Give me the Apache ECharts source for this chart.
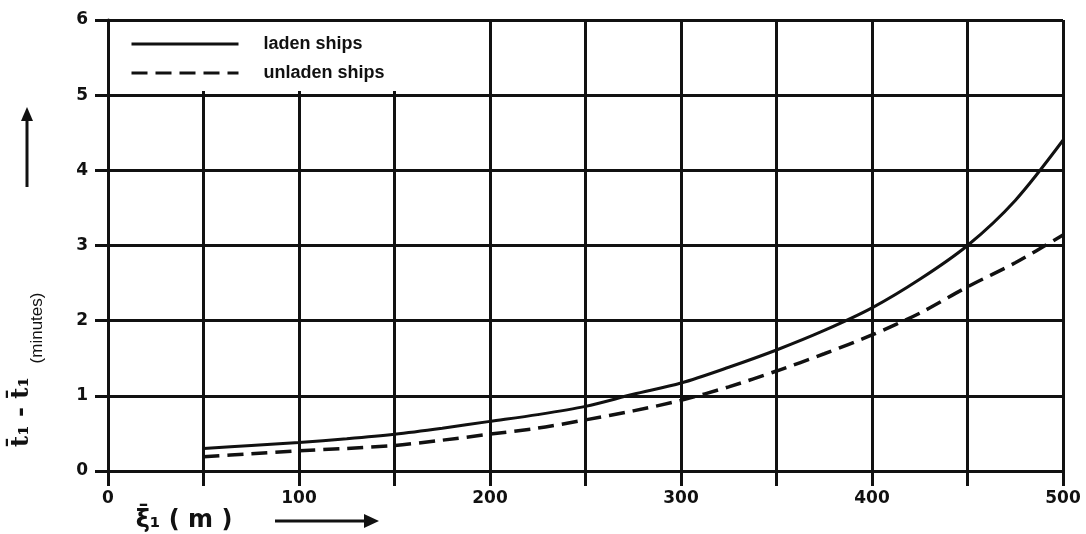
<!DOCTYPE html>
<html>
<head>
<meta charset="utf-8">
<script src="https://cdn.jsdelivr.net/npm/echarts@6/dist/echarts.min.js"></script>
<style>
  html, body { margin: 0; padding: 0; background: #fff; }
  #main { width: 1086px; height: 534px; }
</style>
</head>
<body>
<div id="main"></div>
<script>
// distance along x (m)
const distances = [50, 75, 100, 125, 150, 175, 200, 225, 250, 275, 300, 325, 350, 375, 400, 425, 450, 475, 500];
// time difference (minutes)
const ladenShips = [0.30, 0.34, 0.38, 0.43, 0.49, 0.57, 0.66, 0.75, 0.86, 1.02, 1.17, 1.38, 1.61, 1.87, 2.17, 2.55, 3.00, 3.60, 4.40];
const unladenShips = [0.19, 0.23, 0.27, 0.30, 0.34, 0.41, 0.49, 0.57, 0.68, 0.80, 0.94, 1.12, 1.33, 1.56, 1.81, 2.10, 2.45, 2.77, 3.14];
const xTicks = [0, 100, 200, 300, 400, 500];
const yTicks = [0, 1, 2, 3, 4, 5, 6];

const ink = "#111";
const tickFont = { color: ink, fontFamily: "DejaVu Sans", fontWeight: "bold", fontSize: 17 };

function pairs(ys) {
  return distances.map((d, i) => [d, ys[i]]);
}

var myChart = echarts.init(document.getElementById("main"), null, { renderer: "canvas" });

const options = {
  backgroundColor: "#fff",
  animation: false,
  grid: { left: 108, right: 23, top: 20, bottom: 63 },
  xAxis: [
    {
      type: "value",
      min: xTicks[0],
      max: xTicks[xTicks.length - 1],
      interval: 50,
      axisLine: { show: true, onZero: false, lineStyle: { color: ink, width: 3 } },
      axisTick: { show: true, length: 15, lineStyle: { color: ink, width: 3 } },
      axisLabel: Object.assign({
        margin: 19,
        formatter: (v) => (xTicks.indexOf(v) >= 0 ? String(v) : "")
      }, tickFont),
      splitLine: { show: true, lineStyle: { color: ink, width: 3 } }
    },
    {
      // short inward ticks along the top edge (visible above the legend box)
      type: "value",
      position: "top",
      min: 0,
      max: 500,
      interval: 50,
      z: 5,
      axisLine: { show: false },
      axisTick: { show: true, inside: true, length: 6, lineStyle: { color: ink, width: 2 } },
      axisLabel: { show: false },
      splitLine: { show: false }
    }
  ],
  yAxis: {
    type: "value",
    min: yTicks[0],
    max: yTicks[yTicks.length - 1],
    interval: 1,
    axisLine: { show: true, onZero: false, lineStyle: { color: ink, width: 3 } },
    axisTick: { show: true, length: 13, lineStyle: { color: ink, width: 3 } },
    axisLabel: Object.assign({ margin: 20 }, tickFont),
    splitLine: { show: true, lineStyle: { color: ink, width: 3 } }
  },
  legend: {
    orient: "vertical",
    left: 110,
    top: 22,
    z: 4,
    padding: [13, 10, 14, 20],
    itemGap: 11,
    itemWidth: 107,
    itemHeight: 16,
    itemStyle: { opacity: 0 },
    lineStyle: { width: 3 },
    textStyle: {
      color: ink,
      fontFamily: "Liberation Sans",
      fontWeight: "bold",
      fontSize: 18,
      padding: [0, 0, 0, 20]
    },
    data: ["laden ships", "unladen ships"]
  },
  graphic: [
    // white legend box covering the top-left grid cells
    {
      type: "rect",
      z: 3,
      shape: { x: 110, y: 22, width: 379, height: 69 },
      style: { fill: "#fff" }
    },
    // y-axis title
    {
      type: "text",
      x: 37,
      y: 328,
      rotation: Math.PI / 2,
      style: {
        text: "(minutes)",
        fill: ink,
        font: "17px 'Liberation Sans'",
        align: "center",
        verticalAlign: "middle"
      }
    },
    {
      type: "text",
      x: 22,
      y: 412,
      rotation: Math.PI / 2,
      style: {
        text: "t\u0304\u2081 - t\u0304\u2081",
        fill: ink,
        font: "bold 24px 'DejaVu Serif'",
        align: "center",
        verticalAlign: "middle"
      }
    },
    // y arrow
    {
      type: "line",
      shape: { x1: 27, y1: 187, x2: 27, y2: 116 },
      style: { stroke: ink, lineWidth: 3 }
    },
    {
      type: "polygon",
      shape: { points: [[27, 107], [21, 121], [33, 121]] },
      style: { fill: ink }
    },
    // x-axis title
    {
      type: "text",
      x: 184,
      y: 521,
      style: {
        text: "\u03be\u0304\u2081 ( m )",
        fill: ink,
        font: "bold 24px 'DejaVu Sans'",
        align: "center",
        verticalAlign: "middle"
      }
    },
    // x arrow
    {
      type: "line",
      shape: { x1: 275, y1: 521, x2: 366, y2: 521 },
      style: { stroke: ink, lineWidth: 3 }
    },
    {
      type: "polygon",
      shape: { points: [[379, 521], [364, 514], [364, 528]] },
      style: { fill: ink }
    }
  ],
  series: [
    {
      name: "laden ships",
      type: "line",
      smooth: 0.3,
      symbol: "none",
      data: pairs(ladenShips),
      lineStyle: { color: ink, width: 3, type: "solid" },
      itemStyle: { color: ink },
      z: 6
    },
    {
      name: "unladen ships",
      type: "line",
      smooth: 0.3,
      symbol: "none",
      data: pairs(unladenShips),
      lineStyle: { color: ink, width: 3.5, type: [16, 8] },
      itemStyle: { color: ink },
      z: 6
    }
  ]
};

myChart.setOption(options);

window.onresize = function() {
  myChart.resize();
};
</script>
</body>
</html>
